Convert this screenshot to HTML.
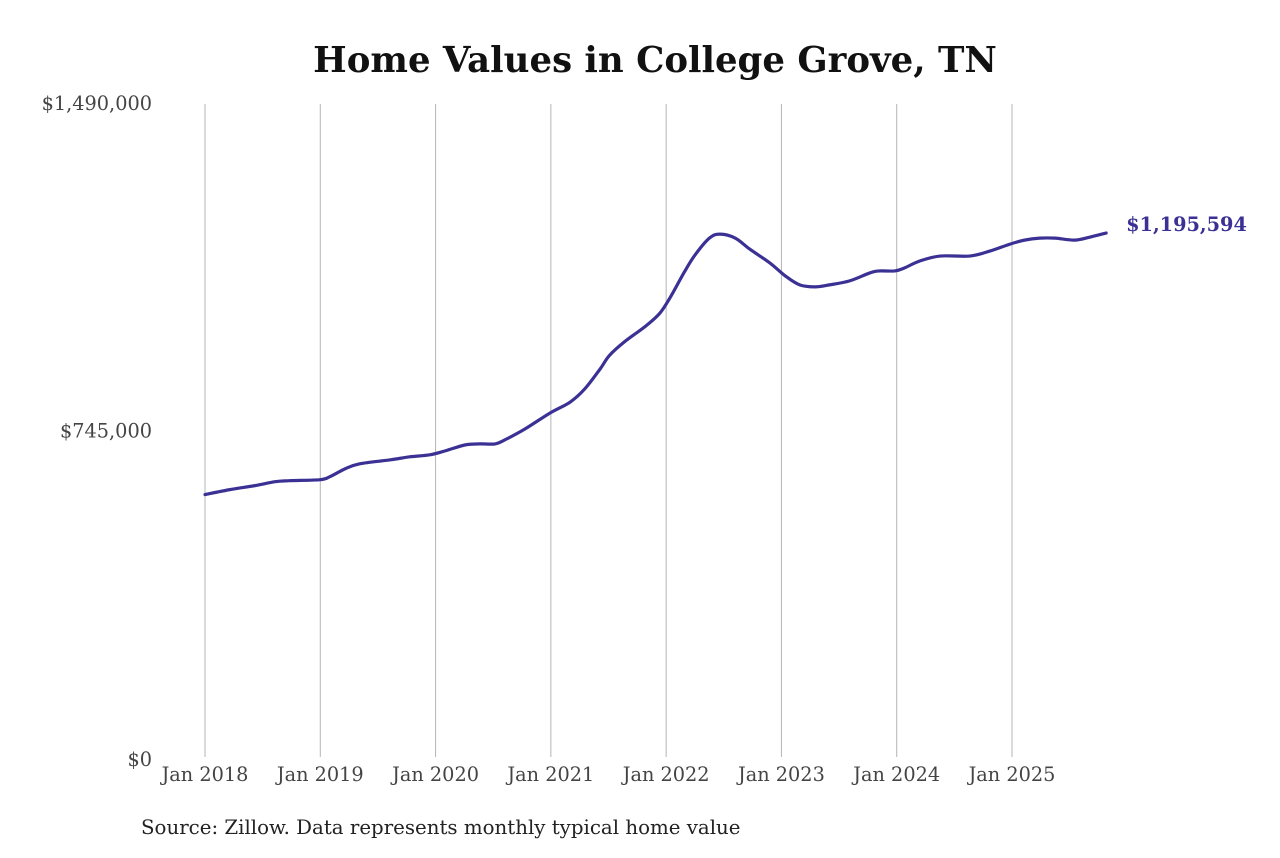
<!DOCTYPE html>
<html><head><meta charset="utf-8"><style>
body{margin:0;background:#fff;}
svg text{font-family:"DejaVu Serif","Liberation Serif",serif;}
</style></head><body>
<svg width="1280" height="853" viewBox="0 0 1280 853">
<text x="655" y="72" text-anchor="middle" font-size="35.5" font-weight="bold" fill="#111">Home Values in College Grove, TN</text>
<g id="grid"></g>
<g id="yax"></g>
<g id="xax"></g>
<path id="line" fill="none" stroke="#3b3195" stroke-width="3.2" stroke-linejoin="round" stroke-linecap="round"/>
<text id="endlabel" font-size="19.3" font-weight="bold" fill="#3b3195"></text>
<text x="141" y="834" font-size="19.8" fill="#222">Source: Zillow. Data represents monthly typical home value</text>
</svg>
<script>
const monthIdx=[0,2.6,5.2,7.3,8.8,12,13,14.6,16.1,19.3,21.3,23.4,25,27.1,28.6,30.2,31.2,33.3,35.9,38,39.5,41.1,42.1,43.7,45.8,47.3,48.4,49.9,51,52.5,53.6,55.2,56.7,58.8,60.4,61.9,63.5,65,67.1,69.2,70.2,71.8,72.8,74.4,76.5,79.6,81.7,83.8,85.3,86.9,88.5,90.5,92.1,93.8];
const values=[598800,610100,619200,628200,630500,632800,639600,657700,669100,678100,684900,689500,698500,712200,714400,714400,723500,748400,784700,809700,839200,884500,916300,948000,982000,1011500,1047800,1106800,1145300,1183900,1193000,1183900,1158900,1127200,1097700,1077300,1072800,1077300,1086400,1104500,1109100,1109100,1115900,1131700,1143100,1143100,1154400,1170300,1179400,1183900,1183900,1179400,1186200,1195594];
const xTickLabels=["Jan 2018","Jan 2019","Jan 2020","Jan 2021","Jan 2022","Jan 2023","Jan 2024","Jan 2025"];
const yTicks=[0,745000,1490000];
const yTickLabels=["$0","$745,000","$1,490,000"];
const ns="http://www.w3.org/2000/svg";
const X=m=>205+m*(1012-205)/84;
const Y=v=>757-v/1490000*653;
function mk(t,a,p){const e=document.createElementNS(ns,t);for(const k in a)e.setAttribute(k,a[k]);p.appendChild(e);return e;}
const grid=document.getElementById('grid'),xax=document.getElementById('xax'),yax=document.getElementById('yax');
xTickLabels.forEach((l,i)=>{
 const g=mk('line',{x1:X(i*12),x2:X(i*12),y1:104,y2:757,stroke:'#b5b5b5','stroke-width':1},grid);
 
 
 const t=mk('text',{x:X(i*12),y:781,'text-anchor':'middle','font-size':19.3,fill:'#444'},xax);
 t.textContent=l;
 
 
});
yTicks.forEach((v,i)=>{
 const t=mk('text',{x:152,y:Y(v)+7+(i===0?2:0)-(i===2?1:0),'text-anchor':'end','font-size':19.3,fill:'#444'},yax);
 t.textContent=yTickLabels[i];
 
 
});
const pts=monthIdx.map((m,i)=>[X(m),Y(values[i])]);
let d='M'+pts[0][0]+','+pts[0][1];
for(let i=0;i<pts.length-1;i++){
 const p0=pts[Math.max(0,i-1)],p1=pts[i],p2=pts[i+1],p3=pts[Math.min(pts.length-1,i+2)];
 const c1=[p1[0]+(p2[0]-p0[0])/6,p1[1]+(p2[1]-p0[1])/6],c2=[p2[0]-(p3[0]-p1[0])/6,p2[1]-(p3[1]-p1[1])/6];
 d+=` C${c1[0]},${c1[1]} ${c2[0]},${c2[1]} ${p2[0]},${p2[1]}`;
}
document.getElementById('line').setAttribute('d',d);
const last=pts[pts.length-1],el=document.getElementById('endlabel');
el.setAttribute('x',last[0]+20);el.setAttribute('y',last[1]-2);
el.textContent='$'+values[values.length-1].toLocaleString('en-US');
</script>
</body></html>
